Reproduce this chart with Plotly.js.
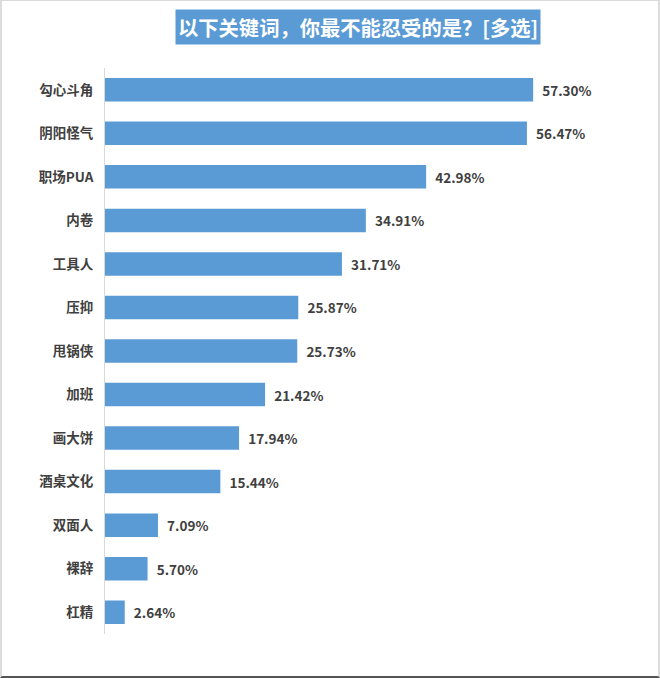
<!DOCTYPE html>
<html>
<head>
<meta charset="utf-8">
<script src="https://cdn.plot.ly/plotly-3.0.1.min.js"></script>
<style>
html,body{margin:0;padding:0;background:#fff;}
#chart{width:660px;height:678px;box-sizing:border-box;border-top:1px solid #d9d9d9;border-left:2px solid #dcdcdc;border-right:2px solid #dcdcdc;border-bottom:2px solid #555;overflow:hidden;}
</style>
</head>
<body>
<div id="chart"></div>
<script>
const categories = ["勾心斗角","阴阳怪气","职场PUA","内卷","工具人","压抑","甩锅侠","加班","画大饼","酒桌文化","双面人","裸辞","杠精"];
const values = [57.30,56.47,42.98,34.91,31.71,25.87,25.73,21.42,17.94,15.44,7.09,5.70,2.64];
const valueLabels = values.map(v => "\u00a0\u00a0" + v.toFixed(2) + "%");
const titleText = "以下关键词，你最不能忍受的是？[多选]";

const font = '"Noto Sans CJK SC", "Noto Sans", sans-serif';

const trace = {
  type: 'bar',
  orientation: 'h',
  y: categories,
  x: values,
  text: valueLabels,
  textposition: 'outside',
  cliponaxis: false,
  textfont: {family: font, size: 13.5, color: '#404040', weight: 'bold'},
  marker: {color: '#5b9bd5'},
  hoverinfo: 'none'
};

const layout = {
  width: 656, height: 675,
  margin: {l: 103, r: 18, t: 67, b: 42, pad: 0},
  paper_bgcolor: '#fff', plot_bgcolor: '#fff',
  bargap: 0.46,
  showlegend: false,
  font: {family: font, color: '#404040'},
  xaxis: {range: [0, 71.6], showgrid: false, zeroline: false, showticklabels: false, showline: false, ticks: ''},
  yaxis: {autorange: 'reversed', showgrid: false, zeroline: false, showline: true, linecolor: '#d9d9d9', linewidth: 1,
          ticks: '', ticklabelstandoff: 8,
          tickfont: {family: font, size: 13.5, color: '#404040', weight: 'bold'}},
  annotations: [{
    xref: 'paper', yref: 'paper', x: 0.472, y: 1.0, yshift: 41.5, xanchor: 'center', yanchor: 'middle',
    text: titleText, showarrow: false,
    font: {family: font, size: 20.3, color: '#ffffff', weight: 'bold'},
    bgcolor: '#5b9bd5', borderpad: 2
  }]
};

Plotly.newPlot('chart', [trace], layout, {displayModeBar: false, staticPlot: true});
</script>
</body>
</html>
